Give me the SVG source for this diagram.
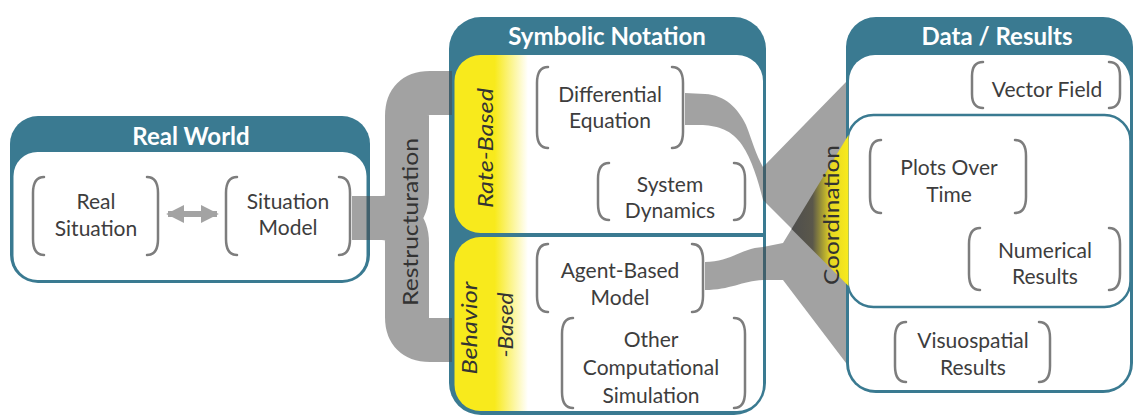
<svg xmlns="http://www.w3.org/2000/svg" width="1134" height="416" viewBox="0 0 1134 416">
  <defs>
    <linearGradient id="yellowFade" gradientUnits="userSpaceOnUse" x1="454" y1="0" x2="528" y2="0">
      <stop offset="0" stop-color="#f8ea1c"/>
      <stop offset="0.55" stop-color="#f8ea1c"/>
      <stop offset="1" stop-color="#ffffff"/>
    </linearGradient>
    <linearGradient id="coordFade" gradientUnits="userSpaceOnUse" x1="791" y1="0" x2="848" y2="0">
      <stop offset="0" stop-color="#4e4e4e"/>
      <stop offset="0.38" stop-color="#5a574a"/>
      <stop offset="0.7" stop-color="#e6d722"/>
      <stop offset="1" stop-color="#f8ea1c"/>
    </linearGradient>
    <marker id="head" viewBox="0 0 10 10" refX="9" refY="5" markerWidth="3" markerHeight="3" orient="auto-start-reverse" markerUnits="strokeWidth">
      <path d="M0,0 L10,5 L0,10 Z" fill="#a3a3a3"/>
    </marker>
  </defs>
  <style>
    .frame { fill: #3a7a91; }
    .panel { fill: #ffffff; }
    .title { font-family: Lato, "Liberation Sans", sans-serif; font-weight: bold; font-size: 24px; fill: #ffffff; text-anchor: middle; }
    .lbl { font-family: Lato, "Liberation Sans", sans-serif; font-size: 21px; fill: #3d3d3d; text-anchor: middle; }
    .side { font-family: Lato, "Liberation Sans", sans-serif; font-size: 21px; font-style: italic; fill: #333333; text-anchor: middle; }
    .vert { font-family: Lato, "Liberation Sans", sans-serif; font-size: 21px; fill: #333333; text-anchor: middle; }
    .br { fill: none; stroke: #7d7d7d; stroke-width: 2.5; stroke-linecap: round; }
    .band { fill: #484848; }
    .bandline { fill: none; stroke: #484848; stroke-width: 44; }
  </style>
  <rect width="1134" height="416" fill="#ffffff"/>

  <!-- Real World -->
  <g id="real-world">
    <rect class="frame" x="10" y="116" width="360" height="167" rx="28"/>
    <rect class="panel" x="13.5" y="152" width="353" height="128" rx="24"/>
    <text class="title" x="191" y="145">Real World</text>
  </g>
  <g id="real-situation">
    <path class="br" d="M44,177 C36,177 33,183 33,193 V239 C33,249 36,255 44,255"/>
    <path class="br" d="M147,177 C155,177 158,183 158,193 V239 C158,249 155,255 147,255"/>
    <text class="lbl" x="96" y="209">Real</text>
    <text class="lbl" x="96" y="236">Situation</text>
  </g>
  <g id="situation-model">
    <path class="br" d="M237,177 C229,177 226,183 226,193 V239 C226,249 229,255 237,255"/>
    <path class="br" d="M339,177 C347,177 350,183 350,193 V239 C350,249 347,255 339,255"/>
    <text class="lbl" x="288" y="209">Situation</text>
    <text class="lbl" x="288" y="235">Model</text>
  </g>

  <!-- Symbolic Notation -->
  <g id="symbolic-notation">
    <rect class="frame" x="449" y="17" width="317" height="398" rx="32"/>
    <path fill="url(#yellowFade)" d="M480.5,55 H737 A26,26 0 0 1 763,81 V233 H480.5 A26,26 0 0 1 454.5,207 V81 A26,26 0 0 1 480.5,55 Z"/>
    <path fill="url(#yellowFade)" d="M480.5,237 H763 V385 A26,26 0 0 1 737,411 H480.5 A26,26 0 0 1 454.5,385 V263 A26,26 0 0 1 480.5,237 Z"/>
    <text class="title" x="607" y="45">Symbolic Notation</text>
    <text class="side" transform="translate(493,148) rotate(-90)" textLength="120" lengthAdjust="spacingAndGlyphs">Rate-Based</text>
    <text class="side" transform="translate(477,328) rotate(-90)" textLength="93" lengthAdjust="spacingAndGlyphs">Behavior</text>
    <text class="side" transform="translate(513,325) rotate(-90)" textLength="65" lengthAdjust="spacingAndGlyphs">-Based</text>
  </g>
  <g id="differential-equation">
    <path class="br" d="M548,67 C540,67 537,73 537,83 V132 C537,142 540,148 548,148"/>
    <path class="br" d="M672,67 C680,67 683,73 683,83 V132 C683,142 680,148 672,148"/>
    <text class="lbl" x="610" y="102">Differential</text>
    <text class="lbl" x="610" y="128">Equation</text>
  </g>
  <g id="system-dynamics">
    <path class="br" d="M609,163 C601,163 598,169 598,179 V204 C598,214 601,220 609,220"/>
    <path class="br" d="M734,163 C742,163 745,169 745,179 V204 C745,214 742,220 734,220"/>
    <text class="lbl" x="670" y="192">System</text>
    <text class="lbl" x="670" y="218">Dynamics</text>
  </g>
  <g id="agent-based-model">
    <path class="br" d="M548,244 C540,244 537,250 537,260 V296 C537,306 540,312 548,312"/>
    <path class="br" d="M692,244 C700,244 703,250 703,260 V296 C703,306 700,312 692,312"/>
    <text class="lbl" x="620" y="278">Agent-Based</text>
    <text class="lbl" x="620" y="305">Model</text>
  </g>
  <g id="other-computational-simulation">
    <path class="br" d="M573,318 C565,318 562,324 562,334 V392 C562,402 565,408 573,408"/>
    <path class="br" d="M734,318 C742,318 745,324 745,334 V392 C745,402 742,408 734,408"/>
    <text class="lbl" x="651" y="347">Other</text>
    <text class="lbl" x="651" y="375">Computational</text>
    <text class="lbl" x="651" y="403">Simulation</text>
  </g>

  <!-- Data / Results -->
  <g id="data-results">
    <rect class="frame" x="846" y="17" width="287" height="376" rx="30"/>
    <rect class="panel" x="849" y="55" width="281" height="335" rx="26"/>
    <rect x="847.5" y="115" width="283" height="192" rx="26" fill="#ffffff" stroke="#3a7a91" stroke-width="2.5"/>
    <text class="title" x="997" y="45">Data / Results</text>
  </g>
  <g id="vector-field">
    <path class="br" d="M983,62 C975,62 972,68 972,76 V94 C972,102 975,108 983,108"/>
    <path class="br" d="M1109,62 C1117,62 1120,68 1120,76 V94 C1120,102 1117,108 1109,108"/>
    <text class="lbl" x="1047" y="97">Vector Field</text>
  </g>
  <g id="plots-over-time">
    <path class="br" d="M881,140 C873,140 870,146 870,156 V197 C870,207 873,213 881,213"/>
    <path class="br" d="M1015,140 C1023,140 1026,146 1026,156 V197 C1026,207 1023,213 1015,213"/>
    <text class="lbl" x="949" y="175">Plots Over</text>
    <text class="lbl" x="949" y="202">Time</text>
  </g>
  <g id="numerical-results">
    <path class="br" d="M980,228 C972,228 969,234 969,244 V274 C969,284 972,290 980,290"/>
    <path class="br" d="M1109,228 C1117,228 1120,234 1120,244 V274 C1120,284 1117,290 1109,290"/>
    <text class="lbl" x="1045" y="258">Numerical</text>
    <text class="lbl" x="1045" y="284">Results</text>
  </g>
  <g id="visuospatial-results">
    <path class="br" d="M906,322 C898,322 895,328 895,338 V366 C895,376 898,382 906,382"/>
    <path class="br" d="M1039,322 C1047,322 1050,328 1050,338 V366 C1050,376 1047,382 1039,382"/>
    <text class="lbl" x="973" y="348">Visuospatial</text>
    <text class="lbl" x="973" y="375">Results</text>
  </g>

  <!-- Connectors -->
  <g id="connectors">
    <line x1="168" y1="214" x2="217" y2="214" stroke="#a3a3a3" stroke-width="6" marker-start="url(#head)" marker-end="url(#head)"/>
    <g opacity="0.5">
      <!-- restructuration fork -->
      <path class="bandline" d="M352,218 H382 Q407,218 407,193 V116 Q407,93 430,93 H452"/>
      <path class="bandline" d="M352,218 H382 Q407,218 407,243 V317 Q407,340 430,340 H452"/>
      <!-- rate-based fan -->
      <path class="band" d="M685,93 L705,94 C725,95 738,108 746,125 C752,140 756,155 763,167 L846,82 L846,283 L763,200 C758,180 752,160 742,145 C732,130 718,126 703,125 L685,125 Z"/>
      <!-- behavior-based fan -->
      <path class="band" d="M705,262 C730,262 742,248 763,247 L783,243 L846,140 L846,363 L783,280 L763,280 C742,281 730,290 705,290 Z"/>
    </g>
    <path fill="url(#coordFade)" d="M791.5,229 L848.5,135 L848.5,286 Z"/>
    <text class="vert" transform="translate(418,222) rotate(-90)" font-size="23" textLength="168" lengthAdjust="spacingAndGlyphs">Restructuration</text>
    <text class="vert" transform="translate(839,215) rotate(-90)" font-size="20" textLength="140" lengthAdjust="spacingAndGlyphs">Coordination</text>
  </g>
</svg>
